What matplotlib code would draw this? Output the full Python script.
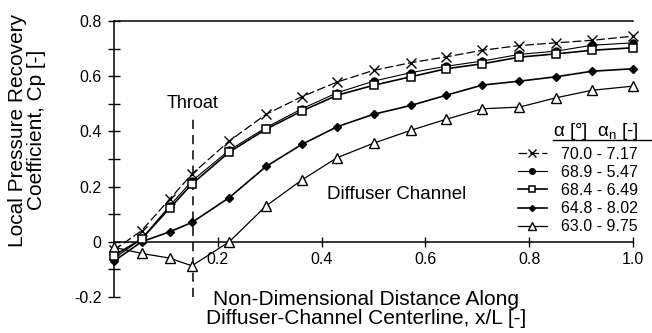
# Diagramm: lokaler Druckrueckgewinn entlang der Diffusor-Mittellinie

import matplotlib
matplotlib.use("Agg")
import matplotlib.pyplot as plt
import matplotlib.ticker as mticker
from matplotlib.lines import Line2D

# Daten
x_pos = [0.0, 0.053, 0.107, 0.15, 0.222, 0.293, 0.362, 0.43, 0.50,
         0.572, 0.64, 0.71, 0.781, 0.852, 0.921, 1.0]

cp_700 = [-0.03, 0.04, 0.154, 0.245, 0.365, 0.462, 0.526, 0.579, 0.621,
          0.649, 0.670, 0.694, 0.711, 0.721, 0.730, 0.745]
cp_689 = [-0.06, 0.01, 0.130, 0.220, 0.332, 0.414, 0.482, 0.540, 0.582,
          0.613, 0.636, 0.655, 0.679, 0.691, 0.712, 0.721]
cp_684 = [-0.05, 0.01, 0.121, 0.209, 0.325, 0.408, 0.474, 0.531, 0.567,
          0.598, 0.627, 0.645, 0.669, 0.681, 0.694, 0.703]
cp_648 = [-0.07, 0.0, 0.036, 0.070, 0.160, 0.273, 0.353, 0.417, 0.462,
          0.494, 0.531, 0.568, 0.582, 0.598, 0.618, 0.627]
cp_630 = [-0.02, -0.042, -0.059, -0.087, 0.0, 0.130, 0.224, 0.305, 0.357,
          0.404, 0.444, 0.482, 0.488, 0.522, 0.549, 0.564]

labels = ["70.0 - 7.17", "68.9 - 5.47", "68.4 - 6.49", "64.8 - 8.02", "63.0 - 9.75"]

throat_x = 0.152
throat_y = [-0.2, 0.444]

y_ticks = [-0.2, 0.0, 0.2, 0.4, 0.6, 0.8]
y_ticklabels = ["-0.2", "0", "0.2", "0.4", "0.6", "0.8"]
x_ticks = [0.2, 0.4, 0.6, 0.8, 1.0]
x_ticklabels = ["0.2", "0.4", "0.6", "0.8", "1.0"]

# Schrift
plt.rcParams["font.family"] = ["Liberation Sans", "DejaVu Sans"]
leg_size = 11.5

fig = plt.figure(figsize=(6.52, 3.33), dpi=100)
ax = fig.add_axes([114 / 652, 36 / 333, 519 / 652, 276 / 333])

# Kurven
ax.plot(x_pos, cp_700, color="black", lw=0.9, dashes=(7, 2.5), marker="x",
        ms=7, mew=1.0, clip_on=False, label=labels[0], zorder=3)
ax.plot(x_pos, cp_689, color="black", lw=0.8, marker="o", ms=5,
        clip_on=False, label=labels[1], zorder=3)
ax.plot(x_pos, cp_684, color="black", lw=1.2, marker="s", ms=6, mfc="white",
        mew=1.1, clip_on=False, label=labels[2], zorder=4)
ax.plot(x_pos, cp_648, color="black", lw=1.2, marker="D", ms=3.8,
        clip_on=False, label=labels[3], zorder=3)
ax.plot(x_pos, cp_630, color="black", lw=0.9, marker="^", ms=6.5, mfc="white",
        mew=1.0, clip_on=False, label=labels[4], zorder=3)

# Engstelle
ax.plot([throat_x, throat_x], throat_y, color="black", lw=1.1, dashes=(6, 4),
        clip_on=False)
ax.text(throat_x, 0.50, "Throat", ha="center", va="center", fontsize=13)
ax.text(0.41, 0.173, "Diffuser Channel", ha="left", va="center", fontsize=13.5)

# Achsen
ax.set_xlim(0, 1.0)
ax.set_ylim(-0.2, 0.8)
ax.spines["right"].set_visible(False)
ax.spines["bottom"].set_position(("data", 0))
for s in ["left", "top", "bottom"]:
    ax.spines[s].set_linewidth(1.1)

ax.set_xticks(x_ticks)
ax.set_xticklabels(x_ticklabels)
ax.set_yticks(y_ticks)
ax.set_yticklabels(y_ticklabels)
ax.yaxis.set_minor_locator(mticker.MultipleLocator(0.1))
ax.tick_params(axis="y", which="both", direction="inout", length=8, width=1.0,
               labelsize=11.5, pad=5)
ax.tick_params(axis="x", which="both", direction="inout", length=7, width=1.0,
               labelsize=11.5, pad=4)

# Achsenbeschriftungen
fig.text(27 / 652, 1 - 130 / 333, "Local Pressure Recovery\nCoefficient, Cp [-]",
         rotation=90, ha="center", va="center", fontsize=15, linespacing=1.05)
fig.text(366 / 652, 1 - 309 / 333,
         "Non-Dimensional Distance Along\nDiffuser-Channel Centerline, x/L [-]",
         ha="center", va="center", fontsize=15, linespacing=1.05)

# Legende mit unterstrichenem Kopf
fig.text(553 / 652, 1 - 131 / 333, r"α [°]  α$_\mathregular{n}$ [-]",
         ha="left", va="center", fontsize=13.5)
fig.add_artist(Line2D([553 / 652, 651 / 652], [1 - 140 / 333, 1 - 140 / 333],
                      color="black", lw=1.0, transform=fig.transFigure))
ax.legend(loc="upper left", bbox_to_anchor=(0.778, 0.545), frameon=False,
          borderpad=0, borderaxespad=0, handlelength=1.8, handletextpad=0.9,
          labelspacing=0.2, prop={"size": leg_size}, markerscale=0.8)

fig.savefig("out.png", dpi=100)
